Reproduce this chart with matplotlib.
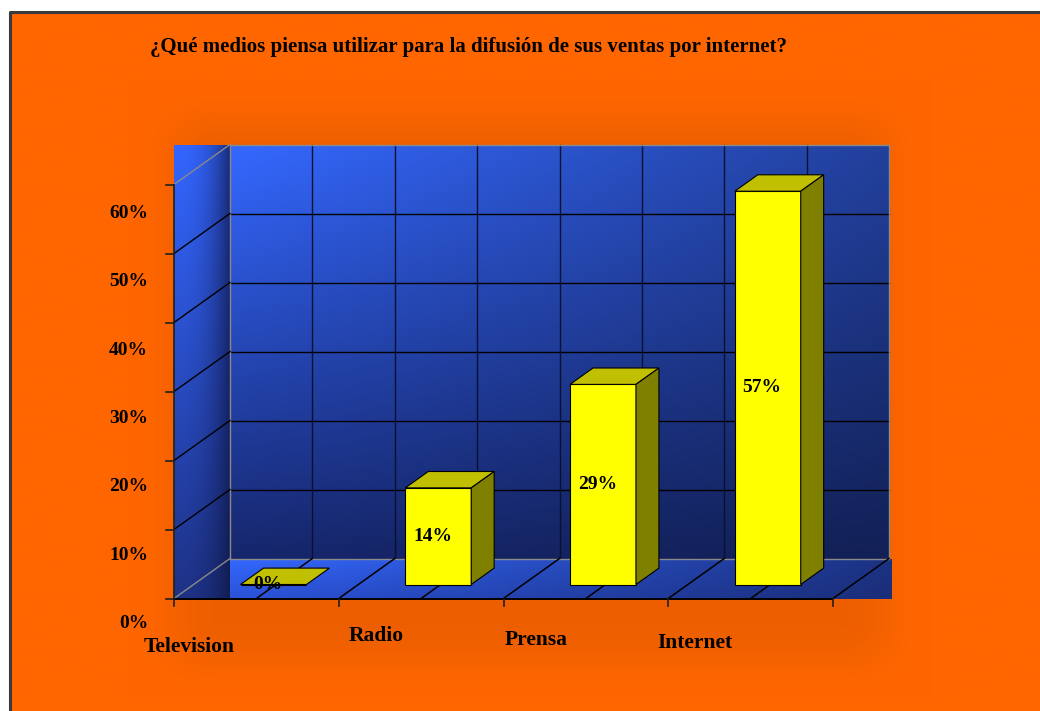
import numpy as np
import matplotlib.pyplot as plt
from matplotlib.patches import Polygon

# datos de la encuesta
title = '¿Qué medios piensa utilizar para la difusión de sus ventas por internet?'
categories = ['Television', 'Radio', 'Prensa', 'Internet']
values = [0.00, 0.14, 0.29, 0.57]
value_labels = ['0%', '14%', '29%', '57%']
y_ticks = [0.0, 0.1, 0.2, 0.3, 0.4, 0.5, 0.6]
y_tick_labels = ['0%', '10%', '20%', '30%', '40%', '50%', '60%']

# posiciones de las etiquetas de categoria (desplazamientos)
cat_dx = [0.09, 0.23, 0.20, 0.16]
cat_dy = [-0.070, -0.054, -0.060, -0.065]

W, H = 1040, 711
FONT = ['Liberation Serif', 'DejaVu Serif']
plt.rcParams['font.family'] = FONT

fig = plt.figure(figsize=(W / 100, H / 100), dpi=100)
fig.patch.set_facecolor('white')

# fondo naranja con sombra suave al centro
bg = fig.add_axes([0, 0, 1, 1])
bg.set_xlim(0, W)
bg.set_ylim(H, 0)
bg.axis('off')


def smooth(d, soft):
    t = np.clip(d / soft, 0, 1)
    return t * t * (3 - 2 * t)


yy, xx = np.mgrid[0:H, 0:W]
sombra = smooth(xx - 120, 90) * smooth(930 - xx, 90) * smooth(yy - 70, 80) * smooth(700 - yy, 80)
naranja = np.array([1.0, 0.4, 0.0])
img = naranja[None, None, :] * (1 - 0.07 * sombra[..., None])
bg.imshow(img, extent=[10, W, H, 12], origin='upper', aspect='auto', zorder=0)
bg.plot([10, 10, W], [H, 12, 12], color='#3a3a3a', lw=2.2, zorder=1)
bg.set_xlim(0, W)
bg.set_ylim(H, 0)

# ejes del grafico: x en categorias, y en fraccion
PX0, UNIT = 174, 164.75
PY0, VUNIT = 598.5, 690
ax = fig.add_axes([0, 0, 1, 1])
ax.patch.set_visible(False)
ax.axis('off')
xlim = (-PX0 / UNIT, (W - PX0) / UNIT)
ylim = (-(H - PY0) / VUNIT, PY0 / VUNIT)

n = len(categories)
DX = 56 / UNIT
DY = 40 / VUNIT
YMAX = y_ticks[-1]


def hex2rgb(c):
    c = c.lstrip('#')
    return np.array([int(c[k:k + 2], 16) / 255 for k in (0, 2, 4)])


def gradient(extent, tl, tr, bl, br, z, px=0.0):
    u = np.linspace(0, 1, 128)[None, :]
    v = np.linspace(0, 1, 128)[:, None]
    tl, tr, bl, br = map(hex2rgb, (tl, tr, bl, br))
    if px:
        u = u ** px
    g = (tl[None, None] * ((1 - u) * (1 - v))[..., None] + tr[None, None] * (u * (1 - v))[..., None]
         + bl[None, None] * ((1 - u) * v)[..., None] + br[None, None] * (u * v)[..., None])
    ax.imshow(g, extent=extent, origin='upper', aspect='auto', zorder=z, interpolation='bilinear')


# pared del fondo, pared izquierda y piso
gradient([DX, n + DX, DY, YMAX + DY], '#3468FF', '#22409C', '#16266C', '#122055', 1)
gradient([0, DX, 0, YMAX + DY], '#3366FF', '#1A2C78', '#1E3286', '#111C50', 1, px=2.5)
gradient([DX, n + DX + 3 / UNIT, 0, DY], '#3468FF', '#1C3384', '#2A52D6', '#1A2D78', 1)

# rejilla de la pared del fondo
for v in y_ticks[1:-1]:
    ax.plot([DX, n + DX], [v + DY, v + DY], color='black', lw=1, zorder=2)
for k in range(1, 2 * n):
    ax.plot([DX + k / 2, DX + k / 2], [DY, YMAX + DY], color='#0a1030', lw=1, zorder=2)
ax.plot([DX, n + DX, n + DX, DX, DX], [DY, DY, YMAX + DY, YMAX + DY, DY], color='#8a8a8a', lw=1, zorder=2)

# lineas de la pared izquierda
for v in y_ticks:
    c = '#8a8a8a' if v in (0.0, YMAX) else 'black'
    ax.plot([0, DX], [v, v + DY], color=c, lw=1, zorder=2)

# lineas del piso
for k in range(1, 2 * n + 1):
    ax.plot([k / 2, k / 2 + DX], [0, DY], color='black', lw=1.1, zorder=2)

# eje vertical y eje de categorias
ax.plot([0, 0], [0, YMAX], color='#202020', lw=1.2, zorder=3)
for v in y_ticks:
    ax.plot([-8 / UNIT, 0], [v, v], color='#202020', lw=1.2, zorder=3)
ax.plot([0, n], [0, 0], color='black', lw=1.4, zorder=3)
for i in range(n + 1):
    ax.plot([i, i], [0, -7 / VUNIT], color='#202020', lw=1.2, zorder=3)

# barras 3D
FRONT, BDEP, BW, BOFF = 0.35, 0.41, 0.40, 0.285
base = FRONT * DY
xs = [i + BOFF + FRONT * DX for i in range(n)]
ax.bar(xs, values, width=BW, bottom=base, align='edge', color='#FFFF00',
       edgecolor='black', lw=0.8, zorder=5)
ddx, ddy = BDEP * DX, BDEP * DY
for x0, v, lbl in zip(xs, values, value_labels):
    top = base + v
    ax.add_patch(Polygon([(x0, top), (x0 + BW, top), (x0 + BW + ddx, top + ddy), (x0 + ddx, top + ddy)],
                         closed=True, facecolor='#C0C000', edgecolor='black', lw=0.8, zorder=6))
    if v > 0:
        ax.add_patch(Polygon([(x0 + BW, base), (x0 + BW + ddx, base + ddy), (x0 + BW + ddx, top + ddy),
                              (x0 + BW, top)], closed=True, facecolor='#808000', edgecolor='black',
                             lw=0.8, zorder=6))
    ax.text(x0 + BW / 2 - 0.035, base + v / 2, lbl, ha='center', va='center',
            fontsize=14, fontweight='bold', color='black', zorder=7)

# etiquetas de los ejes
for v, lbl in zip(y_ticks, y_tick_labels):
    ax.text(-26 / UNIT, v * 0.99 - 0.036, lbl, ha='right', va='center',
            fontsize=14, fontweight='bold', color='black', zorder=7)
for i, (cat, dx, dy) in enumerate(zip(categories, cat_dx, cat_dy)):
    ax.text(i + dx, dy, cat, ha='center', va='center', fontsize=15.5, fontweight='bold',
            color='black', zorder=7)

ax.set_xlim(*xlim)
ax.set_ylim(*ylim)

fig.text(150 / W, 1 - 47 / H, title, ha='left', va='center', fontsize=15,
         fontweight='bold', color='black')

fig.savefig('out.png', dpi=100)
